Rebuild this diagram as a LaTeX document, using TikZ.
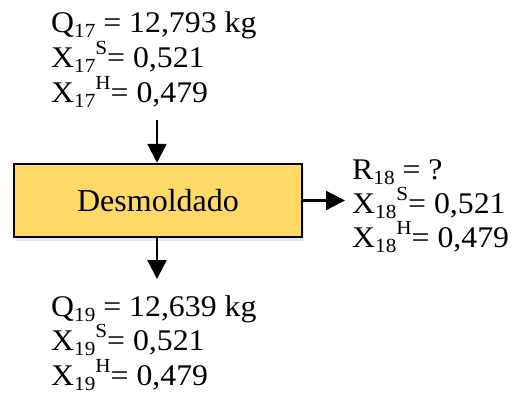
\documentclass[tikz,border=0pt]{standalone}
\usepackage{fontspec}
\setmainfont{Liberation Serif}
\newfontfamily\lblfont[FakeStretch=1.06]{Liberation Serif}
\usetikzlibrary{arrows.meta,shadows}
\definecolor{boxfill}{RGB}{255,217,102}
\definecolor{shadowcol}{RGB}{170,190,225}
\newcommand\lsub[1]{\raisebox{-5bp}{\fontsize{20bp}{20bp}\selectfont #1}}
\newcommand\lsup[1]{\raisebox{13bp}{\fontsize{20bp}{20bp}\selectfont #1}}
\tikzset{
  lbl/.style={anchor=base west, inner sep=0pt, font=\lblfont\fontsize{30bp}{35bp}\selectfont},
  procbox/.style={draw=black, line width=2.5bp, fill=boxfill, minimum width=288bp, minimum height=73bp, inner sep=0pt,
     font=\fontsize{32bp}{36bp}\selectfont,
     drop shadow={shadow xshift=2bp, shadow yshift=-4bp, fill=shadowcol, opacity=0.35}},
  flow/.style={line width=2.3bp, -{Triangle[length=19bp,width=19bp]}}
}
\begin{document}
\begin{tikzpicture}[x=1bp,y=-1bp]
\useasboundingbox (0,0) rectangle (517,397);
% process box
\node[procbox] (box) at (158,200.5) {Desmoldado};
% connector ends
\coordinate (inTop) at (157,120);
\coordinate (outBot) at (157,279);
\coordinate (outRight) at (345,200.5);
\draw[flow] (inTop) -- (inTop |- box.north);
\draw[flow] (box.south -| outBot) -- (outBot);
\draw[flow] (box.east) -- (outRight);
% top labels
\node[lbl] (q17) at (51,32) {Q\lsub{17} = 12,793 kg};
\node[lbl] (xs17) at (51,67) {X\lsub{17}\lsup{S}= 0,521};
\node[lbl] (xh17) at (51,102) {X\lsub{17}\lsup{H}= 0,479};
% right labels
\node[lbl] (r18) at (352,179) {R\lsub{18} = ?};
\node[lbl] (xs18) at (352,213) {X\lsub{18}\lsup{S}= 0,521};
\node[lbl] (xh18) at (352,247) {X\lsub{18}\lsup{H}= 0,479};
% bottom labels
\node[lbl] (q19) at (51,316) {Q\lsub{19} = 12,639 kg};
\node[lbl] (xs19) at (51,350) {X\lsub{19}\lsup{S}= 0,521};
\node[lbl] (xh19) at (51,385) {X\lsub{19}\lsup{H}= 0,479};
\end{tikzpicture}
\end{document}
